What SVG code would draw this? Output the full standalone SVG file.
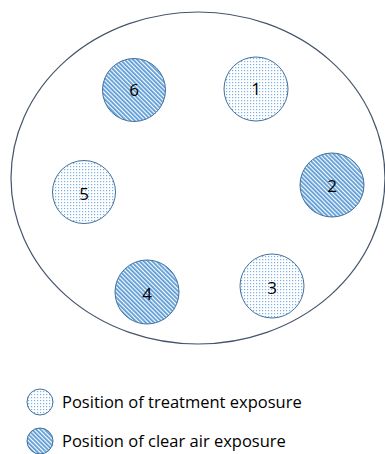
<svg xmlns="http://www.w3.org/2000/svg" width="385" height="454" viewBox="0 0 385 454">
<defs>
<pattern id="dots" width="3" height="3" patternUnits="userSpaceOnUse">
<rect width="3" height="3" fill="#ffffff"/>
<rect x="1" y="1" width="1.2" height="1.2" fill="#7fb0e2"/>
</pattern>
<pattern id="hatch" width="3" height="3" patternUnits="userSpaceOnUse" patternTransform="rotate(-45)">
<rect width="3" height="3" fill="#ffffff"/>
<rect width="1.8" height="3" fill="#5b9bd5"/>
</pattern>
</defs>
<style>
.dot{fill:url(#dots);stroke:#41719c;stroke-width:1}
.hat{fill:url(#hatch);stroke:#41719c;stroke-width:1}
.num{font-family:"Open Sans","Liberation Sans",sans-serif;font-size:17px;fill:#000;text-anchor:middle;dominant-baseline:central}
.leg{font-family:"Open Sans","Liberation Sans",sans-serif;font-size:16.5px;fill:#000}
</style>
<g id="dish">
<ellipse cx="198" cy="178" rx="187" ry="166" fill="none" stroke="#44546a" stroke-width="1.2"/>
</g>
<g id="connectors"></g>
<g id="pos6"><circle class="hat" cx="134" cy="90" r="31.5"/><text class="num" x="134" y="89">6</text></g>
<g id="pos1"><circle class="dot" cx="256" cy="89" r="32"/><text class="num" x="256" y="88">1</text></g>
<g id="pos2"><circle class="hat" cx="332" cy="185" r="32"/><text class="num" x="332" y="185">2</text></g>
<g id="pos5"><circle class="dot" cx="84" cy="192" r="31.5"/><text class="num" x="84" y="193">5</text></g>
<g id="pos4"><circle class="hat" cx="147" cy="292" r="32"/><text class="num" x="147" y="293">4</text></g>
<g id="pos3"><circle class="dot" cx="272" cy="286" r="32"/><text class="num" x="272" y="287">3</text></g>
<g id="legend-treatment"><circle class="dot" cx="40" cy="402" r="13"/><text class="leg" x="62" y="408">Position of treatment exposure</text></g>
<g id="legend-air"><circle class="hat" cx="40" cy="441" r="13"/><text class="leg" x="62" y="447">Position of clear air exposure</text></g>
</svg>
